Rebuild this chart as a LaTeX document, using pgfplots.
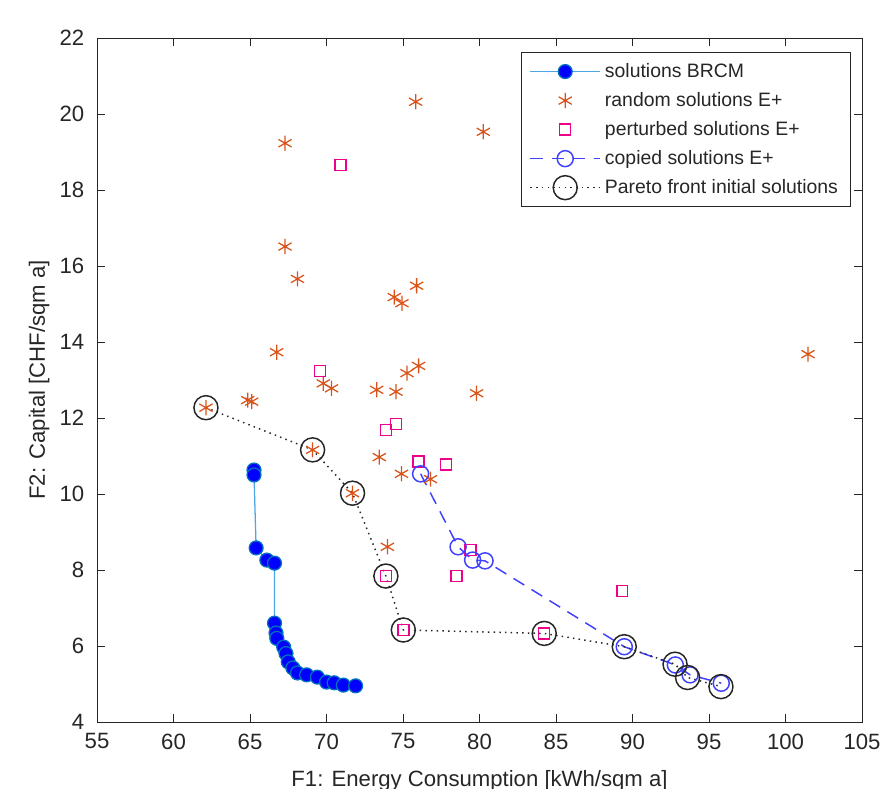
\documentclass[border=0pt]{standalone}
\usepackage{pgfplots}
\pgfplotsset{compat=1.18}
\usepackage{fontspec}
\setmainfont{Liberation Sans}
\usetikzlibrary{calc}

\definecolor{brcmline}{rgb}{0.30,0.65,0.90}
\definecolor{brcmedge}{rgb}{0,0.447,0.741}
\definecolor{matorange}{rgb}{0.85,0.325,0.098}
\definecolor{axgray}{rgb}{0.15,0.15,0.15}
\definecolor{copyblue}{rgb}{0.25,0.25,1}

\begin{document}
\begin{tikzpicture}
\begin{axis}[
    scale only axis, width=12.75cm, height=11.4cm,
    xmin=55, xmax=105, ymin=4, ymax=22,
    xtick={55,60,...,105}, ytick={4,6,...,22},
    tick align=inside, major tick length=0.13cm,
    axis line style={axgray}, tick style={axgray},
    every tick label/.append style={font=\fontsize{10.5}{12}\selectfont, text=axgray},
    xticklabel style={yshift=-2pt},
    yticklabel style={xshift=-2.5pt},
    /pgf/number format/assume math mode=true,
    xlabel={F1: Energy Consumption [kWh/sqm a]},
    ylabel={F2: Capital [CHF/sqm a]},
    label style={font=\fontsize{10.5}{12}\selectfont, text=axgray},
    xlabel style={yshift=-3pt},
    ylabel style={yshift=-2pt},
    legend cell align=left,
    legend style={at={(0.9856,0.9795)}, anchor=north east, draw=axgray,
        font=\fontsize{9.2}{11}\selectfont, text=axgray,
        row sep=1.6pt, inner xsep=4pt, inner ysep=3pt},
    legend image code/.code={\draw[mark repeat=2,mark phase=2,#1]
        plot coordinates {(0cm,0cm) (0.58cm,0cm) (1.16cm,0cm)};},
]
% solutions BRCM
\addplot[color=brcmline, line width=0.6pt, mark=*, mark size=3.3pt,
    mark options={fill=blue, draw=brcmedge, solid}] coordinates {
(65.26,10.63) (65.26,10.50) (65.40,8.58) (66.10,8.26) (66.60,8.18)
(66.60,6.60) (66.70,6.34) (66.75,6.20) (67.20,5.97) (67.35,5.80)
(67.50,5.58) (67.80,5.42) (68.10,5.29) (68.70,5.24) (69.40,5.18)
(70.00,5.05) (70.50,5.03) (71.10,4.97) (71.90,4.95)};
\addlegendentry{solutions BRCM}
% random solutions E+
\addplot[only marks, mark=asterisk, mark size=3.6pt, color=matorange, line width=0.6pt] coordinates {
(62.12,12.27) (64.85,12.47) (65.11,12.43) (66.74,13.73) (67.29,16.51)
(67.29,19.23) (68.10,15.66) (69.09,11.16) (69.79,12.91) (70.33,12.78)
(71.70,10.02) (73.28,12.74) (73.45,10.97) (73.98,8.61) (74.43,15.18)
(74.54,12.69) (74.93,15.02) (74.90,10.53) (75.26,13.18) (75.83,20.32)
(75.89,15.48) (76.02,13.37) (76.80,10.39) (79.81,12.65) (80.25,19.53)
(101.47,13.68)};
\addlegendentry{random solutions E+}
% perturbed solutions E+
\addplot[only marks, mark=square, mark size=2.6pt, color=magenta, line width=0.7pt,
    mark options={solid, fill=none, draw=magenta}] coordinates {
(70.92,18.66) (69.58,13.24) (73.88,11.68) (74.54,11.84) (76.00,10.85)
(77.81,10.78) (79.40,8.53) (78.50,7.84) (73.88,7.84) (75.02,6.42)
(84.23,6.33) (89.33,7.45)};
\addlegendentry{perturbed solutions E+}
% copied solutions E+
\addplot[color=copyblue, dashed, dash pattern=on 6pt off 4pt, line width=0.7pt,
    mark=o, mark size=3.8pt, mark options={solid}] coordinates {
(76.15,10.53) (78.60,8.61) (79.55,8.26) (80.36,8.24) (89.46,5.98)
(92.80,5.50) (93.76,5.24) (95.80,5.02)};
\addlegendentry{copied solutions E+}
% Pareto front initial solutions
\addplot[color=axgray, dotted, line width=0.7pt,
    mark=o, mark size=5.7pt, mark options={solid}] coordinates {
(62.12,12.27) (69.09,11.16) (71.70,10.02) (73.88,7.84) (75.02,6.42)
(84.23,6.33) (89.46,5.98) (92.78,5.52) (93.60,5.17) (95.78,4.93)};
\addlegendentry{Pareto front initial solutions}
\end{axis}
\pgfresetboundingbox
\useasboundingbox ($(current axis.south west)+(-1.617cm,-1.117cm)$) rectangle ($(current axis.north east)+(0.35cm,0.633cm)$);
\end{tikzpicture}
\end{document}
